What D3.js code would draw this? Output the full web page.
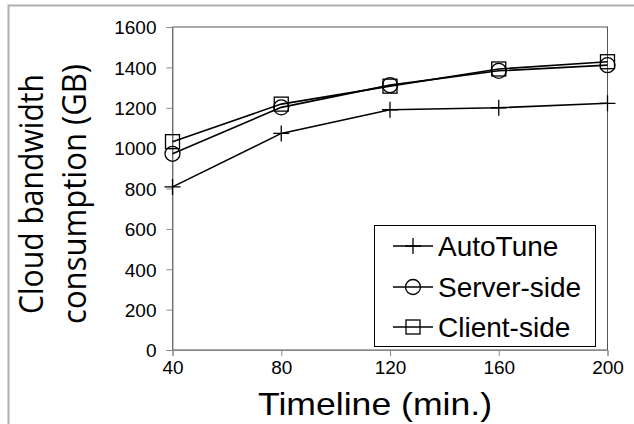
<!DOCTYPE html>
<html>
<head>
<meta charset="utf-8">
<script src="https://cdn.jsdelivr.net/npm/d3@7"></script>
<style>
  body { margin: 0; background: #fff; }
  text { font-family: Arial, "Liberation Sans", sans-serif; }
</style>
</head>
<body>
<svg width="634" height="424"></svg>
<script>
var timeline = [40, 80, 120, 160, 200];
var autoTune = [808, 1073, 1190, 1200, 1222];
var serverSide = [972, 1202, 1312, 1383, 1411];
var clientSide = [1032, 1218, 1307, 1392, 1428];
var seriesNames = ["AutoTune", "Server-side", "Client-side"];
var yTicks = [0, 200, 400, 600, 800, 1000, 1200, 1400, 1600];

var svg = d3.select("svg");

// outer frame (only top and left edges show)
svg.append("path")
    .attr("d", "M8.5,424V5.5H634")
    .attr("fill", "none")
    .attr("stroke", "#b0b0b0")
    .attr("stroke-width", 2);

var x = d3.scaleLinear().domain([40, 200]).range([172.5, 607.5]);
var y = d3.scaleLinear().domain([0, 1600]).range([350, 27]);

// plot box
svg.append("rect")
    .attr("x", x(40)).attr("y", y(1600))
    .attr("width", x(200) - x(40)).attr("height", y(0) - y(1600))
    .attr("fill", "none")
    .attr("stroke", "#555")
    .attr("stroke-width", 1);

var xAxis = svg.append("g")
    .attr("transform", "translate(0," + y(0) + ")")
    .call(d3.axisBottom(x).tickValues(timeline).tickFormat(d3.format("d")).tickSize(6).tickPadding(5));
var yAxis = svg.append("g")
    .attr("transform", "translate(" + x(40) + ",0)")
    .call(d3.axisLeft(y).tickValues(yTicks).tickFormat(d3.format("d")).tickSize(6).tickPadding(10));

[xAxis, yAxis].forEach(function (a) {
    a.select(".domain").attr("stroke", "#888");
    a.selectAll(".tick line").attr("stroke", "#888");
    a.selectAll(".tick text")
        .attr("fill", "#000")
        .style("font-size", "19px")
        .style("font-family", "Arial, 'Liberation Sans', sans-serif");
});
yAxis.selectAll(".tick text").attr("dy", "0.36em");

// axis titles
svg.append("text")
    .attr("x", 375).attr("y", 415)
    .attr("text-anchor", "middle")
    .attr("textLength", 234)
    .attr("lengthAdjust", "spacingAndGlyphs")
    .style("font-size", "32px")
    .text("Timeline (min.)");

var yTitle = svg.append("text")
    .attr("transform", "translate(0,194) rotate(-90)")
    .attr("text-anchor", "middle")
    .style("font-family", "'Open Sans', Lato, sans-serif")
    .style("font-size", "32px");
yTitle.append("tspan").attr("x", 0).attr("y", 43)
    .attr("textLength", 240).attr("lengthAdjust", "spacingAndGlyphs")
    .text("Cloud bandwidth");
yTitle.append("tspan").attr("x", 0).attr("y", 86)
    .attr("textLength", 260).attr("lengthAdjust", "spacingAndGlyphs")
    .text("consumption (GB)");

// marker drawing
function drawMarker(g, type) {
    if (type === 0) {
        g.append("path").attr("d", "M-8,0H8M0,-8V8")
            .attr("stroke", "#000").attr("stroke-width", 1.3).attr("fill", "none");
    } else if (type === 1) {
        g.append("circle").attr("r", 7.5)
            .attr("fill", "none").attr("stroke", "#000").attr("stroke-width", 1.3);
    } else {
        g.append("rect").attr("x", -7).attr("y", -7).attr("width", 14).attr("height", 14)
            .attr("fill", "none").attr("stroke", "#000").attr("stroke-width", 1.3);
    }
}

var allSeries = [autoTune, serverSide, clientSide];
var line = d3.line()
    .x(function (d, i) { return x(timeline[i]); })
    .y(function (d) { return y(d); });

allSeries.forEach(function (vals, s) {
    svg.append("path")
        .datum(vals)
        .attr("d", line)
        .attr("fill", "none")
        .attr("stroke", "#000")
        .attr("stroke-width", 1.6);
    vals.forEach(function (v, i) {
        var g = svg.append("g")
            .attr("transform", "translate(" + x(timeline[i]) + "," + y(v) + ")");
        drawMarker(g, s);
    });
});

// legend
var legend = svg.append("g");
legend.append("rect")
    .attr("x", 374.5).attr("y", 225.5)
    .attr("width", 221).attr("height", 121)
    .attr("fill", "#fff")
    .attr("stroke", "#000")
    .attr("stroke-width", 1);

var rowY = [246, 287, 327];
seriesNames.forEach(function (name, s) {
    var g = legend.append("g").attr("transform", "translate(413," + rowY[s] + ")");
    g.append("line").attr("x1", -20).attr("x2", 20)
        .attr("stroke", "#000").attr("stroke-width", 1.6);
    drawMarker(g, s);
    legend.append("text")
        .attr("x", 438).attr("y", rowY[s] + 10)
        .style("font-size", "28px")
        .text(name);
});
</script>
</body>
</html>
